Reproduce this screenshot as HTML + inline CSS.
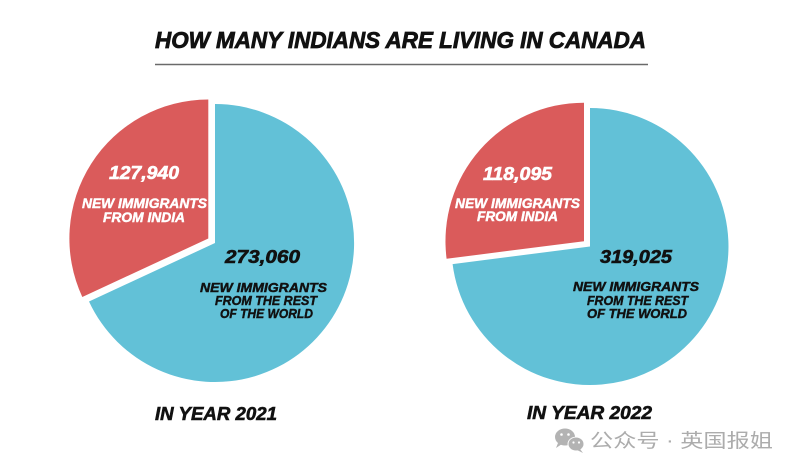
<!DOCTYPE html>
<html>
<head>
<meta charset="utf-8">
<style>
  html, body { margin: 0; padding: 0; background: #ffffff; }
  svg { display: block; }
  .t { font-family: "Liberation Sans", sans-serif; font-weight: bold; font-style: italic; }
  .cjk { font-family: "Liberation Sans", "Noto Sans CJK SC", sans-serif; }
</style>
</head>
<body>
<svg width="800" height="471" viewBox="0 0 800 471" xmlns="http://www.w3.org/2000/svg">
  <rect width="800" height="471" fill="#ffffff"/>

  <!-- Title -->
  <text class="t" x="155" y="48" font-size="23" fill="#111" stroke="#111" stroke-width="0.8" textLength="491" lengthAdjust="spacingAndGlyphs">HOW MANY INDIANS ARE LIVING IN CANADA</text>
  <line x1="155" y1="64.5" x2="648" y2="64.5" stroke="#6a6a6a" stroke-width="1.6"/>

  <!-- Left pie (2021) -->
  <path d="M215,243 L215,104 A139,139 0 1 1 89,301.5 Z" fill="#62C1D7"/>
  <g transform="translate(-6.7,-4.5)">
    <path d="M215,243 L89,301.5 A139,139 0 0 1 215,104 Z" fill="#DA5B5B"/>
  </g>

  <text class="t" x="109" y="179" font-size="18" fill="#fff" stroke="#fff" stroke-width="0.6" textLength="70" lengthAdjust="spacingAndGlyphs">127,940</text>
  <text class="t" x="82" y="208" font-size="13.5" fill="#fff" stroke="#fff" stroke-width="0.45" textLength="125" lengthAdjust="spacingAndGlyphs">NEW IMMIGRANTS</text>
  <text class="t" x="103" y="222" font-size="13.5" fill="#fff" stroke="#fff" stroke-width="0.45" textLength="82" lengthAdjust="spacingAndGlyphs">FROM INDIA</text>

  <text class="t" x="225" y="263" font-size="18" fill="#111" stroke="#111" stroke-width="0.6" textLength="75" lengthAdjust="spacingAndGlyphs">273,060</text>
  <text class="t" x="200" y="292" font-size="13" fill="#111" stroke="#111" stroke-width="0.45" textLength="127" lengthAdjust="spacingAndGlyphs">NEW IMMIGRANTS</text>
  <text class="t" x="215" y="305" font-size="13" fill="#111" stroke="#111" stroke-width="0.45" textLength="102" lengthAdjust="spacingAndGlyphs">FROM THE REST</text>
  <text class="t" x="220" y="318" font-size="13" fill="#111" stroke="#111" stroke-width="0.45" textLength="93" lengthAdjust="spacingAndGlyphs">OF THE WORLD</text>

  <text class="t" x="155" y="420" font-size="18" fill="#111" stroke="#111" stroke-width="0.6" textLength="122" lengthAdjust="spacingAndGlyphs">IN YEAR 2021</text>

  <!-- Right pie (2022) -->
  <path d="M590,246.5 L590,108 A138.5,138.5 0 1 1 452.6,264.1 Z" fill="#62C1D7"/>
  <g transform="translate(-6,-5.3)">
    <path d="M590,246.5 L452.6,264.1 A138.5,138.5 0 0 1 590,108 Z" fill="#DA5B5B"/>
  </g>

  <text class="t" x="483" y="180" font-size="18" fill="#fff" stroke="#fff" stroke-width="0.6" textLength="69" lengthAdjust="spacingAndGlyphs">118,095</text>
  <text class="t" x="455" y="208" font-size="13.5" fill="#fff" stroke="#fff" stroke-width="0.45" textLength="125" lengthAdjust="spacingAndGlyphs">NEW IMMIGRANTS</text>
  <text class="t" x="477" y="221" font-size="13.5" fill="#fff" stroke="#fff" stroke-width="0.45" textLength="81" lengthAdjust="spacingAndGlyphs">FROM INDIA</text>

  <text class="t" x="600" y="263" font-size="18" fill="#111" stroke="#111" stroke-width="0.6" textLength="72" lengthAdjust="spacingAndGlyphs">319,025</text>
  <text class="t" x="573" y="291" font-size="13" fill="#111" stroke="#111" stroke-width="0.45" textLength="126" lengthAdjust="spacingAndGlyphs">NEW IMMIGRANTS</text>
  <text class="t" x="587" y="305" font-size="13" fill="#111" stroke="#111" stroke-width="0.45" textLength="101" lengthAdjust="spacingAndGlyphs">FROM THE REST</text>
  <text class="t" x="587" y="318" font-size="13" fill="#111" stroke="#111" stroke-width="0.45" textLength="100" lengthAdjust="spacingAndGlyphs">OF THE WORLD</text>

  <text class="t" x="527" y="419" font-size="18" fill="#111" stroke="#111" stroke-width="0.6" textLength="125" lengthAdjust="spacingAndGlyphs">IN YEAR 2022</text>

  <!-- Watermark -->
  <g fill="#b3b3b3">
    <ellipse cx="565" cy="437" rx="10" ry="8.5"/>
    <path d="M558,443 L556,448 L562,444 Z"/>
    <ellipse cx="576" cy="444" rx="8.5" ry="7.2" fill="#ffffff"/>
    <ellipse cx="576" cy="444" rx="7.5" ry="6.5"/>
    <path d="M580,449 L583,453 L577,450 Z"/>
    <circle cx="561.5" cy="434.5" r="1.3" fill="#fff"/>
    <circle cx="568.5" cy="434.5" r="1.3" fill="#fff"/>
    <circle cx="573.5" cy="442.5" r="1.1" fill="#fff"/>
    <circle cx="579" cy="442.5" r="1.1" fill="#fff"/>
  </g>
  <text class="cjk" x="590" y="447" font-size="19" fill="#acacac" textLength="183" lengthAdjust="spacingAndGlyphs">公众号 · 英国报姐</text>
</svg>
</body>
</html>
